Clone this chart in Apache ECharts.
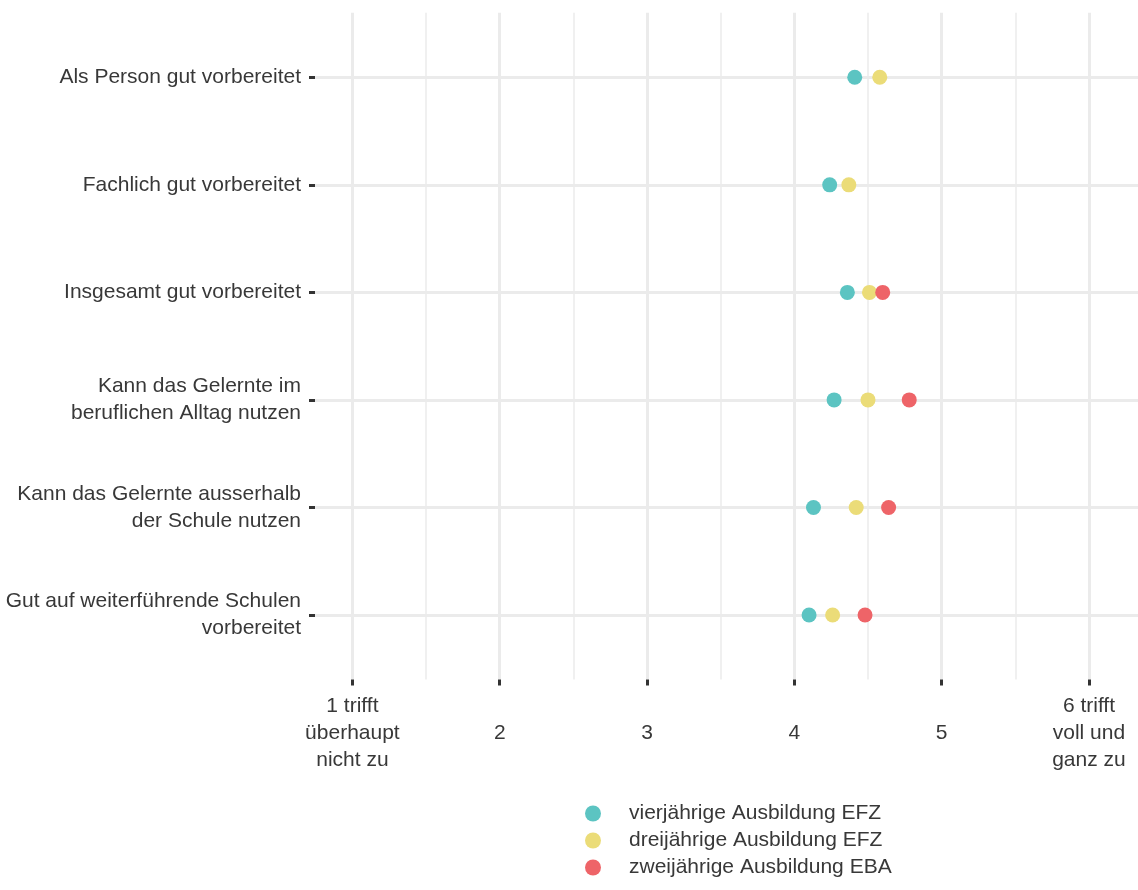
<!DOCTYPE html>
<html>
<head>
<meta charset="utf-8">
<script src="https://cdn.jsdelivr.net/npm/echarts@6/dist/echarts.min.js"></script>
<style>
html,body{margin:0;padding:0;background:#fff;}
#chart{width:1138px;height:890px;}
</style>
</head>
<body>
<div id="chart"></div>
<script>
// ---- data ----
const categories = [
  'Als Person gut vorbereitet',
  'Fachlich gut vorbereitet',
  'Insgesamt gut vorbereitet',
  'Kann das Gelernte im\nberuflichen Alltag nutzen',
  'Kann das Gelernte ausserhalb\nder Schule nutzen',
  'Gut auf weiterführende Schulen\nvorbereitet'
];
const seriesNames = ['vierjährige Ausbildung EFZ', 'dreijährige Ausbildung EFZ', 'zweijährige Ausbildung EBA'];
const vierjaehrig = [4.41, 4.24, 4.36, 4.27, 4.13, 4.10];
const dreijaehrig = [4.58, 4.37, 4.51, 4.50, 4.42, 4.26];
const zweijaehrig = [null, null, 4.60, 4.78, 4.64, 4.48];
const xTickValues = [1, 2, 3, 4, 5, 6];
const xTickLabels = ['1 trifft\nüberhaupt\nnicht zu', '2', '3', '4', '5', '6 trifft\nvoll und\nganz zu'];
const xGridMajor = [1, 2, 3, 4, 5, 6];
const xGridMinor = [1.5, 2.5, 3.5, 4.5, 5.5];

const colors = ['#5CC4C2', '#EBDC78', '#EE6468'];
const FONT = '"Liberation Sans", Arial, sans-serif';
const yPos = categories.map((c, i) => i + 1);

function toPoints(arr) {
  return arr.map((v, i) => v == null ? null : [v, i + 1]).filter(p => p);
}

const chart = echarts.init(document.getElementById('chart'), null, {renderer: 'canvas'});
const option = {
  backgroundColor: '#ffffff',
  animation: false,
  grid: {left: 315, right: 0, top: 12.8, bottom: 210.5, containLabel: false},
  xAxis: {
    type: 'value', min: 0.746, max: 6.333,
    axisLine: {show: false},
    splitLine: {show: false},
    axisTick: {show: true, customValues: xTickValues, length: 6, lineStyle: {color: '#333', width: 3}},
    axisLabel: {
      customValues: xTickValues,
      formatter: v => xTickLabels[xTickValues.indexOf(Math.round(v))],
      fontFamily: FONT, fontSize: 21, color: '#383838', lineHeight: 27,
      verticalAlign: 'middle', margin: 54, align: 'center'
    }
  },
  yAxis: {
    type: 'value', inverse: true, min: 0.4, max: 6.6,
    axisLine: {show: false},
    splitLine: {show: false},
    axisTick: {show: true, customValues: yPos, length: 6, lineStyle: {color: '#333', width: 3}},
    axisLabel: {
      customValues: yPos,
      formatter: v => categories[Math.round(v) - 1],
      fontFamily: FONT, fontSize: 21, color: '#383838', lineHeight: 27,
      margin: 14, align: 'right', padding: [4, 0, 0, 0]
    }
  },
  legend: {
    data: seriesNames.map(n => ({name: n, icon: 'circle'})),
    orient: 'vertical', left: 585, top: 803,
    itemWidth: 16, itemHeight: 16, itemGap: 6, padding: 0,
    textStyle: {fontFamily: FONT, fontSize: 21, color: '#383838', padding: [0, 0, 0, 23]}
  },
  series: [
    {
      type: 'line', data: [], silent: true, z: 0,
      markLine: {
        silent: true, symbol: 'none', animation: false, label: {show: false}, z: 0,
        data: [
          ...xGridMinor.map(v => ({xAxis: v, lineStyle: {color: '#EBEBEB', width: 1.5, type: 'solid'}})),
          ...xGridMajor.map(v => ({xAxis: v, lineStyle: {color: '#EBEBEB', width: 3, type: 'solid'}})),
          ...yPos.map(v => ({yAxis: v, lineStyle: {color: '#EBEBEB', width: 3, type: 'solid'}}))
        ]
      }
    },
    {name: seriesNames[0], type: 'scatter', symbol: 'circle', symbolSize: 15, itemStyle: {color: colors[0], opacity: 1}, data: toPoints(vierjaehrig), z: 6},
    {name: seriesNames[1], type: 'scatter', symbol: 'circle', symbolSize: 15, itemStyle: {color: colors[1], opacity: 1}, data: toPoints(dreijaehrig), z: 7},
    {name: seriesNames[2], type: 'scatter', symbol: 'circle', symbolSize: 15, itemStyle: {color: colors[2], opacity: 1}, data: toPoints(zweijaehrig), z: 8}
  ]
};
chart.setOption(option);
</script>
</body>
</html>
